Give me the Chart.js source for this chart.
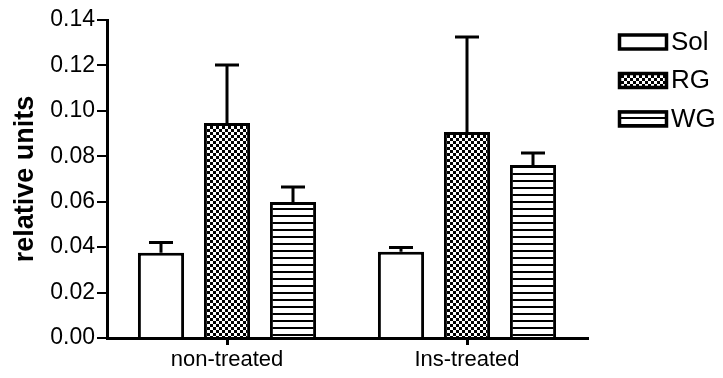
<!DOCTYPE html>
<html>
<head>
<meta charset="utf-8">
<script src="https://cdn.jsdelivr.net/npm/chart.js@4.4.1/dist/chart.umd.min.js"></script>
<style>
  html, body { margin: 0; padding: 0; background: #fff; }
  #wrap { width: 723px; height: 378px; }
</style>
</head>
<body>
<div id="wrap"><canvas id="c" width="723" height="378"></canvas></div>
<script>
// Groups and measured means with their SEM
const categories = ['non-treated', 'Ins-treated'];
const seriesNames = ['Sol', 'RG', 'WG'];
const solValues = [0.0375, 0.0380];
const rgValues  = [0.0947, 0.0907];
const wgValues  = [0.0599, 0.0762];
const solErrors = [0.0045, 0.0018];
const rgErrors  = [0.0255, 0.0418];
const wgErrors  = [0.0066, 0.0053];
const yTicks = [0.00, 0.02, 0.04, 0.06, 0.08, 0.10, 0.12, 0.14];

const FONT = "'Liberation Sans', Arial, sans-serif";

// Fill patterns: checkerboard for RG, horizontal stripes for WG
function checkerPattern() {
  const c = document.createElement('canvas');
  c.width = 6; c.height = 6;
  const g = c.getContext('2d');
  g.fillStyle = '#fff'; g.fillRect(0, 0, 6, 6);
  g.fillStyle = '#000';
  g.fillRect(0, 0, 3, 3);
  g.fillRect(3, 3, 3, 3);
  return g.createPattern(c, 'repeat');
}
function stripePattern() {
  const c = document.createElement('canvas');
  c.width = 7; c.height = 7;
  const g = c.getContext('2d');
  g.fillStyle = '#fff'; g.fillRect(0, 0, 7, 7);
  g.fillStyle = '#000';
  g.fillRect(0, 5, 7, 2);
  return g.createPattern(c, 'repeat');
}

const fills = ['#ffffff', checkerPattern(), stripePattern()];
const seriesValues = [solValues, rgValues, wgValues];
const seriesErrors = [solErrors, rgErrors, wgErrors];

// One-sided (upward) error bars with caps
const errorBars = {
  id: 'errorBars',
  afterDatasetsDraw(chart) {
    const ctx = chart.ctx;
    const y = chart.scales.y;
    ctx.save();
    ctx.strokeStyle = '#000';
    ctx.lineWidth = 3;
    ctx.lineCap = 'butt';
    chart.data.datasets.forEach((ds, i) => {
      const meta = chart.getDatasetMeta(i);
      meta.data.forEach((bar, j) => {
        const top = y.getPixelForValue(ds.data[j] + ds.errors[j]);
        ctx.beginPath();
        ctx.moveTo(bar.x, bar.y);
        ctx.lineTo(bar.x, top);
        ctx.moveTo(bar.x - 12, top);
        ctx.lineTo(bar.x + 12, top);
        ctx.stroke();
      });
    });
    ctx.restore();
  }
};

// Legend at the upper right with swatches showing each fill
const sideLegend = {
  id: 'sideLegend',
  afterDraw(chart) {
    const ctx = chart.ctx;
    ctx.save();
    chart.data.datasets.forEach((ds, i) => {
      const cy = 41.5 + i * 38.5;
      ctx.fillStyle = ds.backgroundColor;
      ctx.fillRect(618, cy - 8, 50, 16);
      ctx.strokeStyle = '#000';
      ctx.lineWidth = 3.5;
      ctx.strokeRect(619.5, cy - 6.5, 47, 14);
      ctx.fillStyle = '#000';
      ctx.font = '26px ' + FONT;
      ctx.textAlign = 'left';
      ctx.textBaseline = 'middle';
      ctx.fillText(ds.label, 671, cy + 1);
    });
    ctx.restore();
  }
};

new Chart(document.getElementById('c'), {
  type: 'bar',
  data: {
    labels: categories,
    datasets: seriesNames.map((name, i) => ({
      label: name,
      data: seriesValues[i],
      errors: seriesErrors[i],
      backgroundColor: fills[i],
      borderColor: '#000',
      borderWidth: 3,
      categoryPercentage: 0.825,
      barPercentage: 0.7
    }))
  },
  options: {
    responsive: false,
    animation: false,
    devicePixelRatio: 1,
    layout: { padding: { top: 20, right: 136, bottom: 0, left: 0 } },
    plugins: { legend: { display: false }, tooltip: { enabled: false } },
    scales: {
      x: {
        grid: { display: true, drawOnChartArea: false, drawTicks: true, tickLength: 7, color: '#000', lineWidth: 3, offset: false },
        border: { display: true, color: '#000', width: 3 },
        ticks: { color: '#000', font: { family: FONT, size: 22 }, padding: 2, maxRotation: 0 },
        afterFit(scale) { scale.height = 40; }
      },
      y: {
        min: 0,
        max: 0.14,
        afterBuildTicks(scale) { scale.ticks = yTicks.map(v => ({ value: v })); },
        grid: { display: true, drawOnChartArea: false, drawTicks: true, tickLength: 10, color: '#000', lineWidth: 2 },
        border: { display: true, color: '#000', width: 3 },
        ticks: {
          color: '#000',
          font: { family: FONT, size: 23 },
          padding: 2,
          callback: v => Number(v).toFixed(2)
        },
        title: {
          display: true,
          text: 'relative units',
          color: '#000',
          font: { family: FONT, size: 27, weight: 'bold' },
          padding: { top: 9, bottom: 0 }
        },
        afterFit(scale) { scale.width = 107; }
      }
    }
  },
  plugins: [errorBars, sideLegend]
});
</script>
</body>
</html>
